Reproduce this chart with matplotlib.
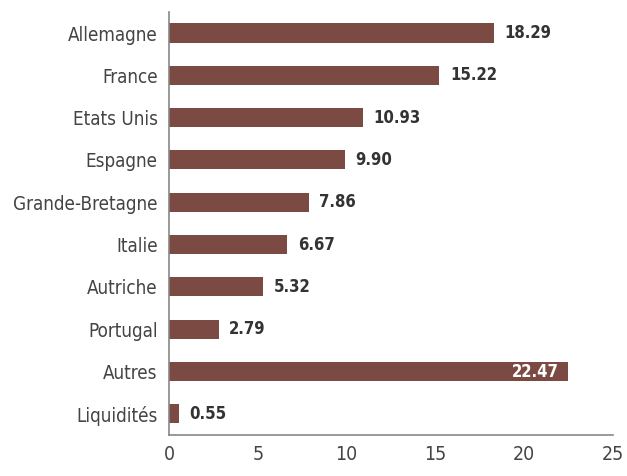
import matplotlib.pyplot as plt

categories = ['Allemagne', 'France', 'Etats Unis', 'Espagne', 'Grande-Bretagne',
              'Italie', 'Autriche', 'Portugal', 'Autres', 'Liquidités']
values = [18.29, 15.22, 10.93, 9.90, 7.86, 6.67, 5.32, 2.79, 22.47, 0.55]
xticks = [0, 5, 10, 15, 20, 25]

plt.rcParams['font.family'] = ['DejaVu Sans']
plt.rcParams['font.stretch'] = 'condensed'

fig = plt.figure(figsize=(6.27, 4.76), dpi=100)
ax = fig.add_axes([0.2695, 0.0861, 0.708, 0.889])

bar_color = '#7b4a42'
ypos = list(range(len(categories)))
ax.barh(ypos, values, height=0.45, color=bar_color)

for y, v in zip(ypos, values):
    if v > 20:
        ax.text(v - 0.5, y, f'{v:.2f}', ha='right', va='center', color='white',
                fontsize=12, fontweight='bold')
    else:
        ax.text(v + 0.6, y, f'{v:.2f}', ha='left', va='center', color='#333333',
                fontsize=12, fontweight='bold')

ax.set_yticks(ypos)
ax.set_yticklabels(categories, fontsize=13.5, color='#444444')
ax.set_ylim(len(categories) - 0.5, -0.5)
ax.set_xlim(0, 25)
ax.set_xticks(xticks)
ax.set_xticklabels([str(t) for t in xticks], fontsize=14, color='#444444')
ax.tick_params(axis='both', length=0)
ax.tick_params(axis='y', pad=8)
ax.tick_params(axis='x', pad=7)

for s in ['top', 'right']:
    ax.spines[s].set_visible(False)
for s in ['left', 'bottom']:
    ax.spines[s].set_color('#888888')
    ax.spines[s].set_linewidth(1.2)

plt.savefig('out.png', dpi=100)
